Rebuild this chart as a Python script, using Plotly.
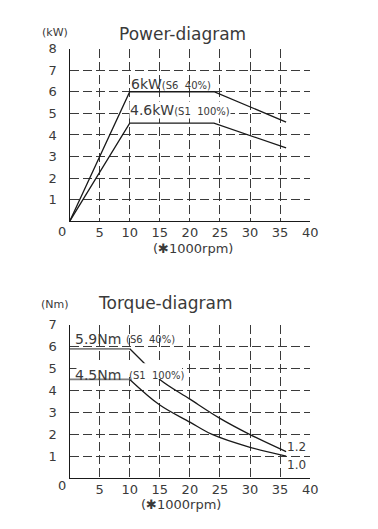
import plotly.graph_objects as go

# ---- data ----
rpm_power = [0, 10, 24, 36]
power_s6 = [0, 6.0, 6.0, 4.6]
power_s1 = [0, 4.55, 4.55, 3.4]

rpm_flat = [0, 10]
torque_s6_flat = [5.9, 5.9]
torque_s1_flat = [4.5, 4.5]
rpm_torque_s6 = [10, 12.8, 15, 20, 25, 30, 36]
torque_s6 = [5.9, 5.13, 4.5, 3.6, 2.72, 1.98, 1.2]
rpm_torque_s1 = [10, 15, 20, 23.6, 30, 36]
torque_s1 = [4.5, 3.33, 2.55, 2.0, 1.4, 1.0]

x_ticks = [5, 10, 15, 20, 25, 30, 35, 40]
power_ticks = [1, 2, 3, 4, 5, 6, 7, 8]
torque_ticks = [1, 2, 3, 4, 5, 6, 7]

# page body keeps a default 8px margin, so the figure is sized to fit inside it
OFF = 8
W, H = 378 - 2 * OFF, 529 - 2 * OFF
FONT = "DejaVu Sans"
TXT = "#3a3a3a"
LINE = "#1a1a1a"
GRID = "#3a3a3a"


def px(x):
    return (x - OFF) / W


def py(y):
    return 1 - (y - OFF) / H


fig = go.Figure()
fig.add_trace(go.Scatter(x=rpm_power, y=power_s6, mode="lines", line=dict(color=LINE, width=1.3), xaxis="x", yaxis="y"))
fig.add_trace(go.Scatter(x=rpm_power, y=power_s1, mode="lines", line=dict(color=LINE, width=1.3), xaxis="x", yaxis="y"))
fig.add_trace(go.Scatter(x=rpm_flat, y=torque_s6_flat, mode="lines", line=dict(color="#808080", width=1.8), xaxis="x2", yaxis="y2"))
fig.add_trace(go.Scatter(x=rpm_flat, y=torque_s1_flat, mode="lines", line=dict(color="#808080", width=1.8), xaxis="x2", yaxis="y2"))
fig.add_trace(go.Scatter(x=rpm_torque_s6, y=torque_s6, mode="lines", line=dict(color=LINE, width=1.3, shape="spline"), xaxis="x2", yaxis="y2"))
fig.add_trace(go.Scatter(x=rpm_torque_s1, y=torque_s1, mode="lines", line=dict(color=LINE, width=1.3, shape="spline"), xaxis="x2", yaxis="y2"))

xdom = [px(71), px(317)]
common_x = dict(range=[0, 40], tickvals=x_ticks, showgrid=True, gridcolor=GRID, griddash="9px,4px", gridwidth=1,
                showline=True, linecolor=LINE, linewidth=1.3, zeroline=False, ticks="", ticklabelstandoff=-1,
                tickfont=dict(family=FONT, size=13, color=TXT), domain=xdom, fixedrange=True)
common_y = dict(showgrid=True, gridcolor=GRID, griddash="9px,4px", gridwidth=1,
                showline=True, linecolor=LINE, linewidth=1.3, zeroline=False, ticks="",
                ticklabelstandoff=9, tickfont=dict(family=FONT, size=13, color=TXT), fixedrange=True)

# white masks where the label text interrupts grid and curve in the torque chart
masks = [
    dict(x0=78, x1=186, y0=361, y1=371),
    dict(x0=142, x1=186, y0=371, y1=377),
]
shapes = [dict(type="rect", xref="paper", yref="paper", layer="above",
               x0=px(m["x0"]), x1=px(m["x1"]), y0=py(m["y1"]), y1=py(m["y0"]),
               fillcolor="white", line=dict(width=0)) for m in masks]

fig.update_layout(
    width=W, height=H, margin=dict(l=0, r=0, t=0, b=0),
    paper_bgcolor="white", plot_bgcolor="white", showlegend=False,
    xaxis=dict(common_x, anchor="y"),
    yaxis=dict(common_y, range=[0, 8], tickvals=power_ticks, domain=[py(217.3), py(42)], anchor="x"),
    xaxis2=dict(common_x, anchor="y2"),
    yaxis2=dict(common_y, range=[0, 7], tickvals=torque_ticks, domain=[py(477.3), py(322)], anchor="x2"),
    shapes=shapes,
)


def ann(text, x, y, size, xanchor="center", bg=None):
    d = dict(text=text, x=px(x), y=py(y), xref="paper", yref="paper", showarrow=False,
             xanchor=xanchor, yanchor="middle", font=dict(family=FONT, size=size, color=TXT))
    if bg:
        d["bgcolor"] = bg
        d["borderpad"] = 0
    fig.add_annotation(**d)


# top chart texts
ann("(kW)", 56, 26, 11)
ann("Power-diagram", 186, 27, 17)
ann("0", 63, 227, 13)
ann("(✱1000rpm)", 197, 245, 13)
ann("6kW<span style='font-size:10px'>(S6  40%)</span>", 132, 78, 14, xanchor="left")
ann("4.6kW<span style='font-size:10px'>(S1  100%)</span>", 132, 104.5, 14, xanchor="left", bg="white")

# bottom chart texts
ann("(Nm)", 56, 301, 11)
ann("Torque-diagram", 169, 300, 17)
ann("0", 63, 485, 13)
ann("(✱1000rpm)", 185, 504, 13)
ann("5.9Nm", 74, 336.5, 14, xanchor="left")
ann("(S6  40%)", 127, 337, 10, xanchor="left")
ann("4.5Nm", 74, 372.5, 14, xanchor="left")
ann("(S1  100%)", 130, 373.5, 10, xanchor="left")
ann("1.2", 303, 446, 12)
ann("1.0", 303, 464.5, 12)

fig.write_html("out.html")
